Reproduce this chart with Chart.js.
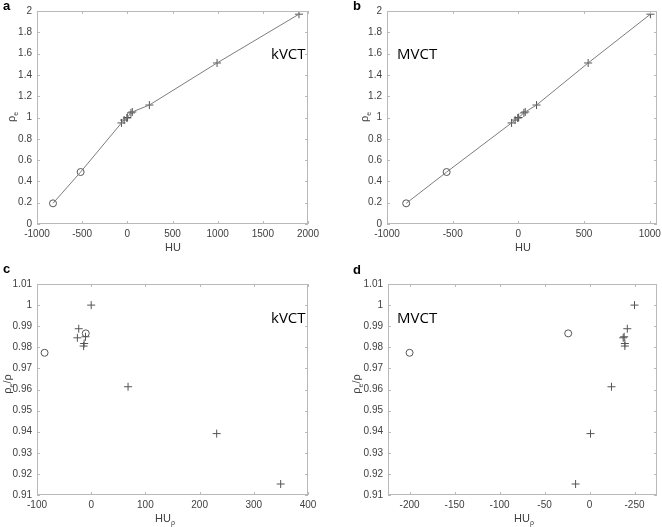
<!DOCTYPE html>
<html>
<head>
<meta charset="utf-8">
<script src="https://cdn.jsdelivr.net/npm/chart.js@4.4.1/dist/chart.umd.min.js"></script>
<style>
  body { margin:0; background:#fff; width:662px; height:527px; position:relative; overflow:hidden;
         font-family:"Liberation Sans", Arial, sans-serif; }
  canvas { position:absolute; }
  .lbl { position:absolute; white-space:nowrap; color:#404040; font-size:11px; line-height:1; }
  .lbl sub { font-size:7px; vertical-align:-3px; }
  .ctr { transform:translate(-50%,-50%); }
  .rot { transform:translate(-50%,-50%) rotate(-90deg); }
  .tag { position:absolute; font-weight:bold; font-size:13px; line-height:1; color:#000; }
  .note { position:absolute; font-family:"Open Sans", sans-serif; font-size:15px; line-height:1; color:#000; }
</style>
</head>
<body>
<canvas id="pa"></canvas>
<canvas id="pb"></canvas>
<canvas id="pc"></canvas>
<canvas id="pd"></canvas>

<div class="tag" style="left:3px;top:-1px">a</div>
<div class="tag" style="left:353px;top:-1px">b</div>
<div class="tag" style="left:3px;top:262px">c</div>
<div class="tag" style="left:353px;top:263px">d</div>

<div class="note" style="left:271px;top:46px">kVCT</div>
<div class="note" style="left:397px;top:46px">MVCT</div>
<div class="note" style="left:271px;top:310px">kVCT</div>
<div class="note" style="left:397px;top:310px">MVCT</div>

<div class="lbl ctr" style="left:173px;top:247px">HU</div>
<div class="lbl ctr" style="left:523px;top:247px">HU</div>
<div class="lbl ctr" style="left:165px;top:519px">HU<sub>ρ</sub></div>
<div class="lbl ctr" style="left:524px;top:519px">HU<sub>ρ</sub></div>
<div class="lbl rot" style="left:12px;top:117px">ρ<sub>e</sub></div>
<div class="lbl rot" style="left:365px;top:117px">ρ<sub>e</sub></div>
<div class="lbl rot" style="left:8px;top:384px">ρ<sub>e</sub>/ρ</div>
<div class="lbl rot" style="left:357px;top:384px">ρ<sub>e</sub>/ρ</div>

<script>
// ---------- data ----------
// relative electron density of the phantom inserts
const lungRhoE   = [0.194, 0.488];
const tissueRhoE = [0.949, 0.976, 0.995, 1.0, 1.043, 1.052, 1.117, 1.512, 1.97];

// a: kVCT calibration, HU per insert
const kvLungHU   = [-823, -517];
const kvTissueHU = [-65, -35, -5, 0, 40, 55, 244, 993, 1900];

// b: MVCT calibration
const mvLungHU   = [-854, -546];
const mvTissueHU = [-52, -25, -5, 2, 42, 52, 138, 531, 1005];

// c/d: rho_e / rho against HU_rho
const lungRatio   = [0.9774, 0.9866];
const tissueRatio = [1.0, 0.9888, 0.9845, 0.985, 0.9818, 0.9806, 0.9613, 0.9391, 0.9152];
const kvLungHUr   = [-86, -10];
const kvTissueHUr = [0, -23, -25.5, -10.5, -13, -14, 68, 231.5, 349.6];
const mvLungHUr   = [-200, -23.7];
const mvTissueHUr = [50, 42, 37.4, 38.5, 39.3, 39.3, 24.4, 1.1, -15.5];

// ticks
const huTicksA    = [-1000, -500, 0, 500, 1000, 1500, 2000];
const huTicksB    = [-1000, -500, 0, 500, 1000];
const rhoTicks    = [0, 0.2, 0.4, 0.6, 0.8, 1, 1.2, 1.4, 1.6, 1.8, 2];
const ratioTicks  = [0.91, 0.92, 0.93, 0.94, 0.95, 0.96, 0.97, 0.98, 0.99, 1, 1.01];
const hurTicksC   = [-100, 0, 100, 200, 300, 400];
const hurTicksD   = [-200, -150, -100, -50, 0, 50];
const hurLabelsD  = ['-200', '-150', '-100', '-50', '0', '-250'];

// ---------- helpers ----------
const zip = (xs, ys) => xs.map((x, i) => ({ x, y: ys[i] }));
const fmt = v => String(Math.round(v * 1000) / 1000);

const MARK = '#555555';
const TICKTXT = '#404040';
const BOX = '#b9b9b9';

// MATLAB-like box with inward ticks on all four sides
const matlabBox = {
  id: 'matlabBox',
  afterDatasetsDraw(chart) {
    const { ctx, chartArea: a, scales: { x, y } } = chart;
    ctx.save();
    ctx.strokeStyle = BOX;
    ctx.lineWidth = 1;
    ctx.strokeRect(a.left + 0.5, a.top + 0.5, a.right - a.left - 1, a.bottom - a.top - 1);
    ctx.beginPath();
    x.ticks.forEach(t => {
      const px = Math.round(x.getPixelForValue(t.value)) + 0.5;
      ctx.moveTo(px, a.bottom); ctx.lineTo(px, a.bottom - 3);
      ctx.moveTo(px, a.top); ctx.lineTo(px, a.top + 3);
    });
    y.ticks.forEach(t => {
      const py = Math.round(y.getPixelForValue(t.value)) + 0.5;
      ctx.moveTo(a.left, py); ctx.lineTo(a.left + 3, py);
      ctx.moveTo(a.right, py); ctx.lineTo(a.right - 3, py);
    });
    ctx.stroke();
    ctx.restore();
  }
};
Chart.register(matlabBox);

function lineSet(points) {
  return {
    data: points.slice().sort((p, q) => p.x - q.x),
    showLine: true, pointRadius: 0, borderColor: '#7d7d7d', borderWidth: 1
  };
}
function circleSet(points) {
  return {
    data: points, pointStyle: 'circle', pointRadius: 3.5,
    borderColor: MARK, backgroundColor: 'rgba(0,0,0,0)', pointBorderWidth: 1
  };
}
function plusSet(points) {
  return {
    data: points, pointStyle: 'cross', pointRadius: 4,
    borderColor: MARK, pointBorderWidth: 1
  };
}

function makePanel(id, geo, xAx, yAx, datasets) {
  const cv = document.getElementById(id);
  cv.width = geo.w; cv.height = geo.h;
  cv.style.left = geo.x + 'px'; cv.style.top = geo.y + 'px';
  const tickFont = { family: '"Liberation Sans", Arial, sans-serif', size: 10 };
  return new Chart(cv, {
    type: 'scatter',
    data: { datasets },
    options: {
      responsive: false,
      animation: false,
      layout: { padding: { top: geo.top, right: geo.right, left: 0, bottom: 0 } },
      plugins: { legend: { display: false }, tooltip: { enabled: false } },
      scales: {
        x: {
          type: 'linear', min: xAx.min, max: xAx.max,
          grid: { display: false, drawTicks: false }, border: { display: false },
          ticks: {
            autoSkip: false, maxRotation: 0, padding: 4, color: TICKTXT, font: tickFont,
            callback: (v, i) => xAx.labels ? xAx.labels[i] : fmt(v)
          },
          afterBuildTicks: s => { s.ticks = xAx.ticks.map(v => ({ value: v })); },
          afterFit: s => { s.height = geo.xh; s.paddingLeft = 0; s.paddingRight = 0; }
        },
        y: {
          type: 'linear', min: yAx.min, max: yAx.max,
          grid: { display: false, drawTicks: false }, border: { display: false },
          ticks: {
            autoSkip: false, padding: 5, color: TICKTXT, font: tickFont,
            callback: v => fmt(v)
          },
          afterBuildTicks: s => { s.ticks = yAx.ticks.map(v => ({ value: v })); },
          afterFit: s => { s.width = geo.yw; s.paddingTop = 0; s.paddingBottom = 0; }
        }
      }
    }
  });
}

// ---------- panels ----------
const kvLung = zip(kvLungHU, lungRhoE), kvTissue = zip(kvTissueHU, tissueRhoE);
makePanel('pa',
  { x: 0, y: 0, w: 331, h: 263, yw: 37, top: 11, right: 23, xh: 39 },
  { min: -1000, max: 2000, ticks: huTicksA },
  { min: 0, max: 2, ticks: rhoTicks },
  [lineSet(kvLung.concat(kvTissue)), circleSet(kvLung), plusSet(kvTissue)]);

const mvLung = zip(mvLungHU, lungRhoE), mvTissue = zip(mvTissueHU, tissueRhoE);
makePanel('pb',
  { x: 331, y: 0, w: 331, h: 263, yw: 56, top: 11, right: 3, xh: 39 },
  { min: -1000, max: 1055, ticks: huTicksB },
  { min: 0, max: 2, ticks: rhoTicks },
  [lineSet(mvLung.concat(mvTissue)), circleSet(mvLung), plusSet(mvTissue)]);

makePanel('pc',
  { x: 0, y: 263, w: 331, h: 264, yw: 37, top: 21, right: 23, xh: 32 },
  { min: -100, max: 400, ticks: hurTicksC },
  { min: 0.91, max: 1.01, ticks: ratioTicks },
  [circleSet(zip(kvLungHUr, lungRatio)), plusSet(zip(kvTissueHUr, tissueRatio))]);

makePanel('pd',
  { x: 331, y: 263, w: 331, h: 264, yw: 57, top: 21, right: 4, xh: 32 },
  { min: -224, max: 75, ticks: hurTicksD, labels: hurLabelsD },
  { min: 0.91, max: 1.01, ticks: ratioTicks },
  [circleSet(zip(mvLungHUr, lungRatio)), plusSet(zip(mvTissueHUr, tissueRatio))]);
</script>
</body>
</html>
